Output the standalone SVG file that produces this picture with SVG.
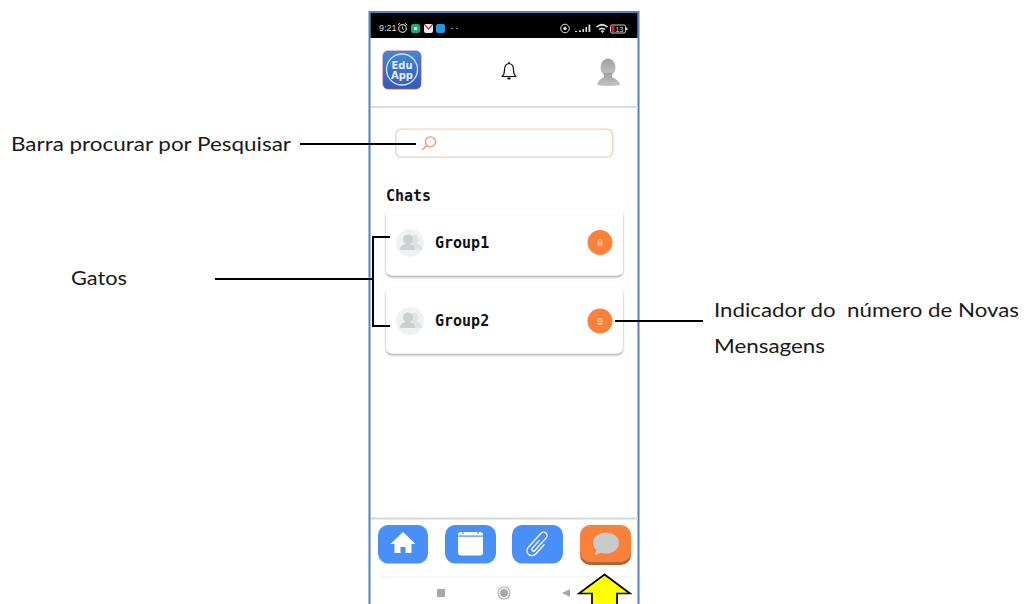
<svg xmlns="http://www.w3.org/2000/svg" width="1024" height="604" viewBox="0 0 1024 604">
<defs>
<linearGradient id="lg" x1="0" y1="0" x2="0" y2="1"><stop offset="0" stop-color="#3f8ad8"/><stop offset="1" stop-color="#3558b8"/></linearGradient>
<linearGradient id="ag" x1="0" y1="0" x2="0" y2="1"><stop offset="0" stop-color="#a0a0a0"/><stop offset="1" stop-color="#c4c4c4"/></linearGradient>
<filter id="sh" x="-5%" y="-10%" width="110%" height="125%"><feDropShadow dx="0" dy="1.500" stdDeviation="1" flood-color="#000" flood-opacity=".4"/></filter>
<g id="people"><circle cx="0" cy="0" r="14" fill="#f0f2f2"/><circle cx="4" cy="-3.500" r="4.500" fill="#dfe3e3"/><path d="M0 7c0-5 3-7 5-7s7 1 7 7z" fill="#dfe3e3"/><circle cx="-2" cy="-3.500" r="5" fill="#ccd0d0"/><path d="M-10 7c0-5 4-6 8-6s7 2 7 6z" fill="#ccd0d0"/></g>
</defs>
<style>
.lbl{font-family:"Lato","Open Sans",sans-serif;font-size:19.500px;fill:#1a1a1a}
.mono{font-family:"DejaVu Sans Mono","Liberation Mono",monospace;font-weight:700;fill:#111;font-size:15px}
.con{fill:none;stroke:#000;stroke-width:2}
.btn{fill:#4a8ff7}
.card{fill:#fff;filter:url(#sh)}
.badge{fill:#fb8039}
.bt{font-family:"DejaVu Sans Mono",monospace;font-size:9.500px;fill:#ffd9bf;text-anchor:middle}
</style>
<rect width="1024" height="604" fill="#fff"/>
<g id="phone">
<rect x="369.500" y="12" width="269" height="600" fill="#fff" stroke="#4f81c4" stroke-width="2"/>
<rect x="370.500" y="13" width="267" height="25" fill="#000"/>
<rect x="371" y="106" width="267" height="2" fill="#dcdcdc"/>
<rect x="371" y="517.500" width="267" height="2" fill="#d8d8d8"/>
<rect x="378" y="576.500" width="253" height="1" fill="#f0f0f0"/>
</g>
<g id="status-bar">
<text x="379" y="31" font-family="Liberation Sans,sans-serif" font-size="9" fill="#ddd">9:21</text>
<circle cx="402.500" cy="28.500" r="3.800" fill="none" stroke="#ccc" stroke-width="1.200"/>
<path d="M398 25l2-2M407 25l-2-2M402.500 26.500v2l1.500 1" fill="none" stroke="#ccc"/>
<rect x="411" y="24" width="9" height="9" rx="2" fill="#18b07a"/><rect x="414" y="27" width="3" height="3" fill="#cfe"/>
<rect x="424" y="24" width="9" height="9" rx="2" fill="#eee"/><path d="M425 25l3.500 4 3.500-4" fill="none" stroke="#c33" stroke-width="1.300"/>
<rect x="436" y="24" width="9" height="9" rx="2" fill="#2a96dc"/>
<circle cx="452" cy="28.500" r=".8" fill="#bbb"/><circle cx="457" cy="28.500" r=".8" fill="#bbb"/>
<circle cx="565" cy="28.500" r="4.300" fill="none" stroke="#ddd" stroke-width="1"/><circle cx="565" cy="28.500" r="1.700" fill="#ddd"/>
<path d="M575 32h2v-1h-2zM579 32v-1.500h2v1.500zM582.500 32v-3h1.500v3zM585.500 32v-5h1.500v5zM588.500 32v-7.500h1.800v7.500z" fill="#ddd"/>
<path d="M596 26.500q6-5.500 12 0l-1 1.200q-5-4-10 0zM598.500 29q3.500-3 7 0l-1 1.200q-2.500-2-5 0zM600.800 31.500l.8-1q.9-.7 1.800 0l.8 1-1.700 1.500z" fill="#ddd"/>
<rect x="610.500" y="25" width="15" height="8" rx="1.500" fill="none" stroke="#ccc"/><rect x="611.500" y="26" width="3" height="6" fill="#d22"/><rect x="626" y="27.500" width="1.500" height="2.500" fill="#ccc"/>
<text x="619.500" y="31.500" font-family="Liberation Sans,sans-serif" font-size="7" fill="#ddd" text-anchor="middle">13</text>
</g>
<g id="app-logo">
<rect x="383" y="51" width="38" height="38" rx="5" fill="url(#lg)" stroke="#b8477a" stroke-width=".8"/>
<circle cx="402" cy="69.500" r="15.500" fill="none" stroke="#d5def5" stroke-width="1.300"/>
<text x="402" y="69" font-family="DejaVu Sans,sans-serif" font-weight="700" font-size="10" fill="#e8eefc" text-anchor="middle">Edu</text>
<text x="402" y="79" font-family="DejaVu Sans,sans-serif" font-weight="700" font-size="10" fill="#e8eefc" text-anchor="middle">App</text>
</g>
<g id="bell">
<path d="M502 76.500h14q-2.500-2-2.500-6.500q0-6-4.500-6.500q-4.500.5-4.500 6.500q0 4.500-2.500 6.500z" fill="#fff" stroke="#111" stroke-width="1.200" stroke-linejoin="round"/>
<path d="M507.500 78h3l-1.500 1.500z" fill="#111" stroke="#111"/><rect x="508.300" y="61.800" width="1.400" height="1.800" fill="#111"/>
</g>
<g id="user-avatar">
<ellipse cx="608" cy="67.500" rx="7.500" ry="9" fill="url(#ag)"/>
<path d="M604 73h8v4q7 3 8 8q-12 2-23 0q1-5 7-8z" fill="url(#ag)"/>
</g>
<g id="search">
<rect x="395.700" y="129.200" width="217" height="28" rx="6" fill="#fff" stroke="#f3d2b2" stroke-width="1.300"/>
<circle cx="430.500" cy="141.800" r="5" fill="none" stroke="#e59a66" stroke-width="1.300"/>
<path d="M427 145.500l-5 4.500" stroke="#e59a66" stroke-width="1.300" fill="none"/>
</g>
<text x="386" y="201" class="mono">Chats</text>
<g id="chat-group1">
<rect class="card" x="386" y="209.500" width="237" height="66" rx="6"/>
<use href="#people" x="410" y="243"/>
<text x="435" y="248" class="mono">Group1</text>
<circle class="badge" cx="600" cy="242.500" r="12.500"/>
<text x="600" y="246" class="bt">0</text>
</g>
<g id="chat-group2">
<rect class="card" x="386" y="287.500" width="237" height="66" rx="6"/>
<use href="#people" x="410" y="321"/>
<text x="435" y="326" class="mono">Group2</text>
<circle class="badge" cx="600" cy="321" r="12.500"/>
<text x="600" y="324.500" class="bt">0</text>
</g>
<g id="nav-home">
<rect class="btn" x="378" y="525" width="50" height="38.500" rx="10"/>
<path d="M403 532l-12.500 12h4v9h6v-6h5v6h6v-9h4z" fill="#fff"/>
</g>
<g id="nav-calendar">
<rect class="btn" x="445" y="525" width="51" height="38.500" rx="10"/>
<rect x="458" y="532" width="25" height="23.500" rx="3" fill="#fff"/>
<rect x="458" y="535.500" width="25" height="1.200" fill="#4a8ff7"/>
<path d="M463 531v3M478 531v3" stroke="#4a8ff7" stroke-width="1.200"/>
</g>
<g id="nav-attach">
<rect class="btn" x="512" y="525" width="51" height="38.500" rx="10"/>
<path d="M5-4V9a5 5 0 0 1-10 0V-10a3.500 3.500 0 0 1 7 0V7a1.700 1.700 0 0 1-3.400 0V-4" transform="translate(538 544) rotate(42)" fill="none" stroke="#fff" stroke-width="1.300"/>
</g>
<g id="nav-chat">
<rect x="580" y="526" width="51" height="39" rx="10" fill="#a8683a"/>
<rect x="580" y="525" width="51" height="37" rx="10" fill="#fb8039"/>
<ellipse cx="606" cy="543" rx="13" ry="10.500" fill="#c9c9c9"/>
<path d="M597 549l-2 6 8-3z" fill="#c9c9c9"/>
</g>
<g id="android-nav">
<rect x="437" y="589" width="8" height="8" fill="#a8a8a8"/>
<circle cx="504" cy="593" r="6" fill="none" stroke="#b0b0b0" stroke-width="1.200"/><circle cx="504" cy="593" r="4" fill="#a8a8a8"/>
<path d="M570 589v8l-8-4z" fill="#a8a8a8"/>
</g>
<g id="connectors">
<path class="con" d="M300 144H416"/>
<path class="con" d="M390 237H373V326H390"/>
<path class="con" d="M215 279H373"/>
<path class="con" d="M615 321H703"/>
<path d="M604.500 574.500L630 593.500H617V606H592V593.500H579z" fill="#ff0" stroke="#000" stroke-width="1.700"/>
</g>
<g id="labels">
<text class="lbl" x="11" y="151" textLength="280" lengthAdjust="spacingAndGlyphs">Barra procurar por Pesquisar</text>
<text class="lbl" x="71" y="285" textLength="56" lengthAdjust="spacingAndGlyphs">Gatos</text>
<text class="lbl" x="714" y="317" textLength="305" lengthAdjust="spacingAndGlyphs" xml:space="preserve">Indicador do  número de Novas</text>
<text class="lbl" x="714" y="353" textLength="111" lengthAdjust="spacingAndGlyphs">Mensagens</text>
</g>
</svg>
